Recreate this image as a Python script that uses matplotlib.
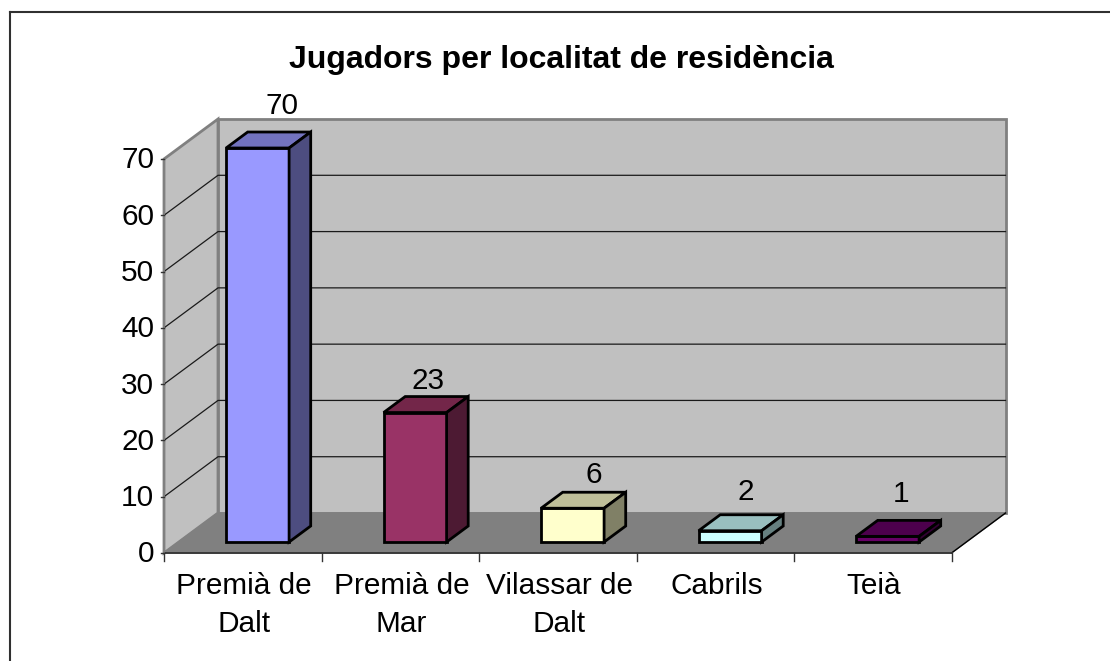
import matplotlib
matplotlib.use("Agg")
import matplotlib.pyplot as plt
from matplotlib.patches import Polygon
from matplotlib.lines import Line2D

plt.rcParams['font.family'] = ['Liberation Sans', 'DejaVu Sans']

labels = ["Premià de\nDalt", "Premià de\nMar", "Vilassar de\nDalt", "Cabrils", "Teià"]
values = [70, 23, 6, 2, 1]
yticks = [0, 10, 20, 30, 40, 50, 60, 70]
face_colors = ["#9999FF", "#993366", "#FFFFCC", "#CCFFFF", "#660066"]
top_colors = ["#7373BF", "#732649", "#BFBF99", "#99BFBF", "#4D004D"]
side_colors = ["#4D4D80", "#4D1A33", "#808066", "#668080", "#330033"]
# nudges of the value labels, in points
label_dx = [2, -6, 0, -4, -6]
label_dy = [3, -5, -4, 0, 3]

W, H = 1110, 661
fs = 21.4

fig = plt.figure(figsize=(W / 100, H / 100), dpi=100)
# axes box = front plane of the chart
ax = fig.add_axes([164 / W, 1 - 553 / H, 787.5 / W, 394 / H])
ax.set_xlim(0, 5)
ax.set_ylim(0, 70)
ax.axis('off')

# oblique depth, in data units
depth_x = 54 / 157.5
depth_y = 40 / 5.63
gap = 0.3


def pt(x, y, d):
    return (x + d * depth_x, y + d * depth_y)


def poly(pts, fc, ec='none', lw=0, z=1):
    ax.add_patch(Polygon(pts, closed=True, facecolor=fc, edgecolor=ec, linewidth=lw,
                         joinstyle='miter', clip_on=False, zorder=z))


# frame, only top and left are inside the picture
fig.add_artist(Line2D([9.5 / W, 1], [1 - 12 / H, 1 - 12 / H], color='#303030', lw=1.5))
fig.add_artist(Line2D([9.5 / W, 9.5 / W], [0, 1 - 12 / H], color='#303030', lw=1.5))

# walls and floor
poly([pt(0, 0, 0), pt(0, 70, 0), pt(0, 70, 1), pt(0, 0, 1)], '#C0C0C0', '#808080', 2, 1)
poly([pt(0, 0, 1), pt(0, 70, 1), pt(5, 70, 1), pt(5, 0, 1)], '#C0C0C0', '#808080', 2, 1)
poly([pt(0, 0, 0), pt(0, 0, 1), pt(5, 0, 1), pt(5, 0, 0)], '#808080', '#808080', 1, 1.5)

# gridlines
for t in yticks[1:-1]:
    ax.plot(*zip(pt(0, t, 0), pt(0, t, 1), pt(5, t, 1)), color='#1a1a1a', lw=0.9, zorder=2,
            clip_on=False)
ax.plot(*zip(pt(5, 0, 0), pt(5, 0, 1)), color='#000000', lw=1, zorder=2, clip_on=False)

# axes lines and ticks
ax.plot([0, 5], [0, 0], color='#333333', lw=1.3, zorder=3, clip_on=False)
ax.plot([0, 0], [0, 70], color='#808080', lw=1.3, zorder=3, clip_on=False)
for t in yticks:
    ax.plot([-0.02, 0], [t, t], color='#333333', lw=1, zorder=3, clip_on=False)
    ax.annotate(str(t), (0, t), xytext=(-7, -1), textcoords='offset points', ha='right',
                va='center', fontsize=fs, color='black', annotation_clip=False)
for i in range(6):
    ax.plot([i, i], [0, -70 * 8 / 394], color='#333333', lw=1, zorder=3, clip_on=False)
for i, lab in enumerate(labels):
    ax.annotate(lab, (i + 0.5, 0), xytext=(1, -14), textcoords='offset points', ha='center',
                va='top', fontsize=fs, color='black', linespacing=1.42, annotation_clip=False)

# bars
d0, d1 = 0.275, 0.675
for i, v in enumerate(values):
    x0, x1 = i + gap, i + 1 - gap
    poly([pt(x0, 0, d0), pt(x1, 0, d0), pt(x1, v, d0), pt(x0, v, d0)], face_colors[i], 'black', 2, 5)
    poly([pt(x0, v, d0), pt(x1, v, d0), pt(x1, v, d1), pt(x0, v, d1)], top_colors[i], 'black', 2, 5)
    poly([pt(x1, 0, d0), pt(x1, 0, d1), pt(x1, v, d1), pt(x1, v, d0)], side_colors[i], 'black', 2, 5)
    ax.annotate(str(v), pt((x0 + x1) / 2, v, d1), xytext=(label_dx[i], 6 + label_dy[i]),
                textcoords='offset points', ha='center', va='bottom', fontsize=fs, color='black',
                annotation_clip=False)

fig.text(561.5 / W, 1 - 60 / H, "Jugadors per localitat de residència", ha='center', va='center',
         fontsize=23, fontweight='bold')

fig.savefig("out.png", dpi=100)
